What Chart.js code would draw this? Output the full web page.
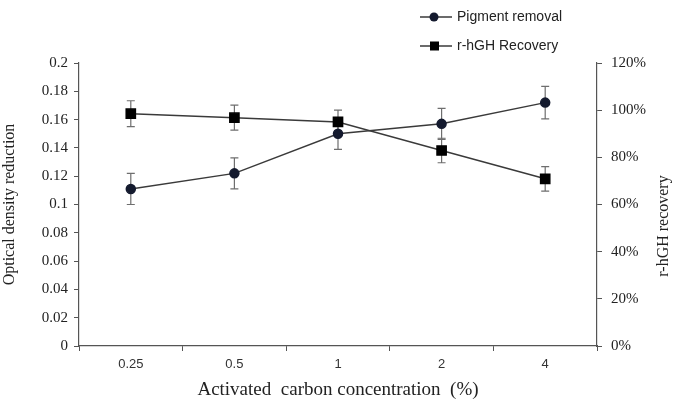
<!DOCTYPE html>
<html>
<head>
<meta charset="utf-8">
<script src="https://cdn.jsdelivr.net/npm/chart.js@4.4.1/dist/chart.umd.min.js"></script>
<style>
  html, body { margin: 0; padding: 0; background: #fff; }
  #wrap { width: 677px; height: 401px; }
</style>
</head>
<body>
<div id="wrap"><canvas id="myChart" width="677" height="401"></canvas></div>
<script>
// Activated carbon: pigment removal vs r-hGH recovery

const concentrations = ['0.25', '0.5', '1', '2', '4'];
const pigmentRemoval = [0.111, 0.122, 0.150, 0.157, 0.172];
const pigmentError = [0.011, 0.011, 0.011, 0.011, 0.0115];
const recovery = [98.5, 96.8, 95.0, 82.9, 70.9];
const recoveryError = [5.5, 5.3, 5.0, 5.2, 5.2];
const densityTicks = [0, 0.02, 0.04, 0.06, 0.08, 0.1, 0.12, 0.14, 0.16, 0.18, 0.2];
const recoveryTicks = [0, 20, 40, 60, 80, 100, 120];

const axisColor = '#555';
const lineColor = '#3a3a3a';
const serif = '"Liberation Serif", "Times New Roman", serif';
const sans = '"Liberation Sans", Arial, sans-serif';

const errorBars = {
    id: 'errorBars',
    beforeDatasetsDraw(chart) {
        const ctx = chart.ctx;
        const sets = [
            { index: 0, values: pigmentRemoval, errors: pigmentError, axis: 'y' },
            { index: 1, values: recovery, errors: recoveryError, axis: 'y1' }
        ];
        ctx.save();
        ctx.strokeStyle = '#6e6e6e';
        ctx.lineWidth = 1.2;
        sets.forEach(s => {
            const meta = chart.getDatasetMeta(s.index);
            const scale = chart.scales[s.axis];
            meta.data.forEach((pt, i) => {
                const top = scale.getPixelForValue(s.values[i] + s.errors[i]);
                const bot = scale.getPixelForValue(s.values[i] - s.errors[i]);
                ctx.beginPath();
                ctx.moveTo(pt.x, top);
                ctx.lineTo(pt.x, bot);
                ctx.moveTo(pt.x - 4, top);
                ctx.lineTo(pt.x + 4, top);
                ctx.moveTo(pt.x - 4, bot);
                ctx.lineTo(pt.x + 4, bot);
                ctx.stroke();
            });
        });
        ctx.restore();
    },
    afterDraw(chart) {
        const ctx = chart.ctx;
        ctx.save();
        // right axis title, reading bottom to top
        ctx.fillStyle = '#222';
        ctx.font = '16px ' + serif;
        ctx.textAlign = 'center';
        ctx.textBaseline = 'middle';
        ctx.translate(664, 226);
        ctx.rotate(-Math.PI / 2);
        ctx.fillText('r-hGH recovery', 0, 0);
        ctx.restore();

        // legend with line through marker
        const rows = [
            { label: 'Pigment removal', y: 17, shape: 'circle' },
            { label: 'r-hGH Recovery', y: 46, shape: 'square' }
        ];
        ctx.save();
        rows.forEach(r => {
            ctx.strokeStyle = lineColor;
            ctx.lineWidth = 1.5;
            ctx.beginPath();
            ctx.moveTo(420, r.y);
            ctx.lineTo(452, r.y);
            ctx.stroke();
            if (r.shape === 'circle') {
                ctx.fillStyle = '#141a2e';
                ctx.beginPath();
                ctx.arc(434, r.y, 4.5, 0, Math.PI * 2);
                ctx.fill();
            } else {
                ctx.fillStyle = '#000';
                ctx.fillRect(430, r.y - 4.5, 9, 9);
            }
            ctx.fillStyle = '#222';
            ctx.font = '14px ' + sans;
            ctx.textAlign = 'left';
            ctx.textBaseline = 'middle';
            ctx.fillText(r.label, 457, r.y);
        });
        ctx.restore();
    }
};

const ctx = document.getElementById('myChart').getContext('2d');
const myChart = new Chart(ctx, {
    type: 'line',
    data: {
        labels: concentrations,
        datasets: [{
            label: 'Pigment removal',
            data: pigmentRemoval,
            yAxisID: 'y',
            borderColor: lineColor,
            borderWidth: 1.5,
            pointStyle: 'circle',
            pointRadius: 4.5,
            pointBackgroundColor: '#141a2e',
            pointBorderColor: '#141a2e',
            tension: 0
        }, {
            label: 'r-hGH Recovery',
            data: recovery,
            yAxisID: 'y1',
            borderColor: lineColor,
            borderWidth: 1.5,
            pointStyle: 'rect',
            pointRadius: 6.5,
            pointBackgroundColor: '#000',
            pointBorderColor: '#000',
            tension: 0
        }]
    },
    options: {
        responsive: false,
        animation: false,
        layout: { padding: { top: 63, left: 0, right: 0, bottom: 0 } },
        plugins: {
            legend: { display: false },
            tooltip: { enabled: false }
        },
        scales: {
            x: {
                offset: true,
                grid: {
                    display: true,
                    drawOnChartArea: false,
                    offset: true,
                    tickLength: 5,
                    color: axisColor
                },
                border: { color: axisColor, width: 1.2 },
                ticks: { color: '#333', font: { family: sans, size: 13 }, padding: 6 },
                title: {
                    display: true,
                    text: 'Activated  carbon concentration  (%)',
                    color: '#222',
                    font: { family: serif, size: 19 },
                    padding: { top: 0, bottom: 0 }
                },
                afterFit(scale) { scale.height = 55; }
            },
            y: {
                position: 'left',
                min: 0,
                max: 0.2,
                afterBuildTicks(scale) { scale.ticks = densityTicks.map(v => ({ value: v })); },
                grid: { drawOnChartArea: false, tickLength: 5, color: axisColor },
                border: { color: axisColor, width: 1.2 },
                ticks: {
                    color: '#222',
                    font: { family: serif, size: 15 },
                    padding: 6,
                    callback: v => Number(v.toFixed(2)).toString()
                },
                title: {
                    display: true,
                    text: 'Optical density reduction',
                    color: '#222',
                    font: { family: serif, size: 16 },
                    padding: { top: 0, bottom: 4 }
                },
                afterFit(scale) { scale.width = 79; }
            },
            y1: {
                position: 'right',
                min: 0,
                max: 120,
                afterBuildTicks(scale) { scale.ticks = recoveryTicks.map(v => ({ value: v })); },
                grid: { drawOnChartArea: false, tickLength: 5, color: axisColor },
                border: { color: axisColor, width: 1.2 },
                ticks: {
                    color: '#222',
                    font: { family: serif, size: 15 },
                    padding: 9,
                    callback: v => v + '%'
                },
                afterFit(scale) { scale.width = 80; }
            }
        }
    },
    plugins: [errorBars]
});
</script>
</body>
</html>
